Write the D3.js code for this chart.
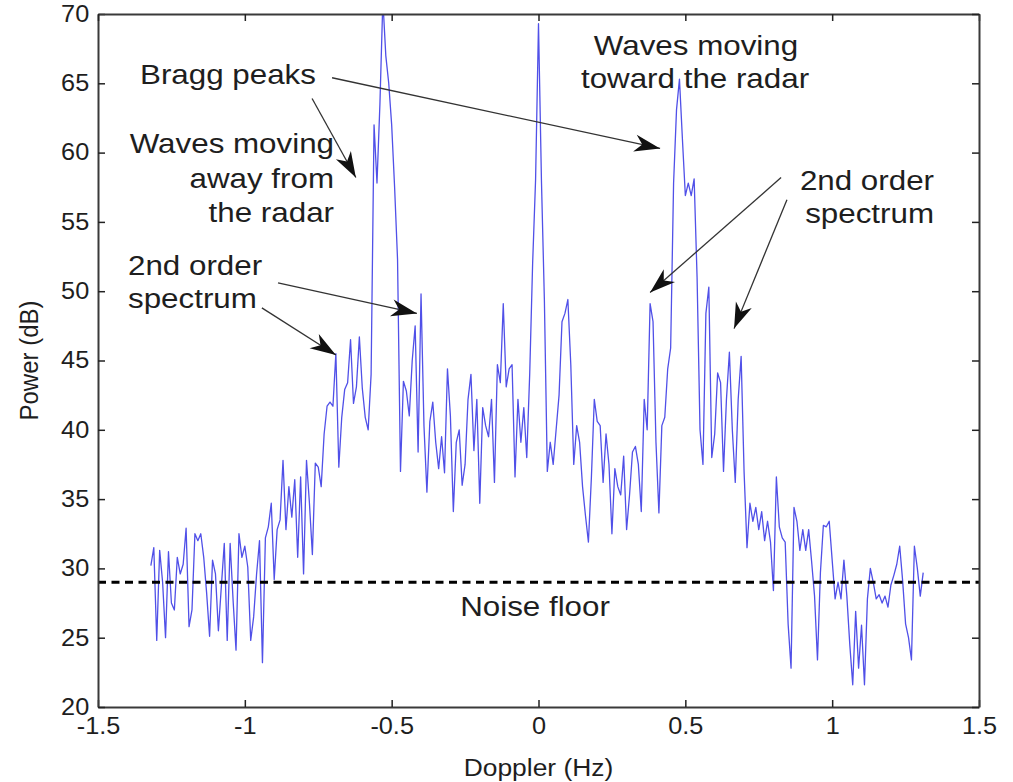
<!DOCTYPE html>
<html>
<head>
<meta charset="utf-8">
<script src="https://cdn.jsdelivr.net/npm/d3@7"></script>
<style>
  body { margin: 0; background: #fff; }
  text { font-family: "Liberation Sans", Arial, Helvetica, sans-serif; fill: #1e1e1e; }
</style>
</head>
<body>
<svg width="1013" height="782"></svg>
<script>
// Doppler bins (Hz) and received power (dB)
let doppler = [
  -1.32, -1.31, -1.30, -1.29, -1.28, -1.27, -1.26, -1.25, -1.24, -1.23, -1.22, -1.21, -1.20, -1.19, -1.18, -1.17,
  -1.16, -1.15, -1.14, -1.13, -1.12, -1.11, -1.10, -1.09, -1.08, -1.07, -1.06, -1.05, -1.04, -1.03, -1.02, -1.01,
  -1.00, -0.99, -0.98, -0.97, -0.96, -0.95, -0.94, -0.93, -0.92, -0.91, -0.90, -0.89, -0.88, -0.87, -0.86, -0.85,
  -0.84, -0.83, -0.82, -0.81, -0.80, -0.79, -0.78, -0.77, -0.76, -0.75, -0.74, -0.73, -0.72, -0.71, -0.70, -0.69,
  -0.68, -0.67, -0.66, -0.65, -0.64, -0.63, -0.62, -0.61, -0.60, -0.59, -0.58, -0.57, -0.56, -0.55, -0.54, -0.53,
  -0.52, -0.51, -0.50, -0.49, -0.48, -0.47, -0.46, -0.45, -0.44, -0.43, -0.42, -0.41, -0.40, -0.39, -0.38, -0.37,
  -0.36, -0.35, -0.34, -0.33, -0.32, -0.31, -0.30, -0.29, -0.28, -0.27, -0.26, -0.25, -0.24, -0.23, -0.22, -0.21,
  -0.20, -0.19, -0.18, -0.17, -0.16, -0.15, -0.14, -0.13, -0.12, -0.11, -0.10, -0.09, -0.08, -0.07, -0.06, -0.05,
  -0.04, -0.03, -0.02, -0.01, 0.00, 0.01, 0.02, 0.03, 0.04, 0.05, 0.06, 0.07, 0.08, 0.09, 0.10, 0.11,
  0.12, 0.13, 0.14, 0.15, 0.16, 0.17, 0.18, 0.19, 0.20, 0.21, 0.22, 0.23, 0.24, 0.25, 0.26, 0.27,
  0.28, 0.29, 0.30, 0.31, 0.32, 0.33, 0.34, 0.35, 0.36, 0.37, 0.38, 0.39, 0.40, 0.41, 0.42, 0.43,
  0.44, 0.45, 0.46, 0.47, 0.48, 0.49, 0.50, 0.51, 0.52, 0.53, 0.54, 0.55, 0.56, 0.57, 0.58, 0.59,
  0.60, 0.61, 0.62, 0.63, 0.64, 0.65, 0.66, 0.67, 0.68, 0.69, 0.70, 0.71, 0.72, 0.73, 0.74, 0.75,
  0.76, 0.77, 0.78, 0.79, 0.80, 0.81, 0.82, 0.83, 0.84, 0.85, 0.86, 0.87, 0.88, 0.89, 0.90, 0.91,
  0.92, 0.93, 0.94, 0.95, 0.96, 0.97, 0.98, 0.99, 1.00, 1.01, 1.02, 1.03, 1.04, 1.05, 1.06, 1.07,
  1.08, 1.09, 1.10, 1.11, 1.12, 1.13, 1.14, 1.15, 1.16, 1.17, 1.18, 1.19, 1.20, 1.21, 1.22, 1.23,
  1.24, 1.25, 1.26, 1.27, 1.28, 1.29, 1.30, 1.31
];

let power = [
  30.2, 31.5, 24.8, 31.3, 29.0, 25.0, 31.2, 27.5, 27.0, 30.8, 29.6, 30.3, 32.9, 25.8, 27.0, 32.5,
  32.0, 32.5, 30.8, 28.2, 25.1, 30.6, 29.6, 25.5, 28.7, 31.8, 24.8, 31.8, 27.7, 24.1, 32.5, 30.8,
  31.6, 30.1, 24.8, 26.5, 29.6, 32.0, 23.2, 32.2, 33.0, 34.7, 29.2, 32.8, 33.5, 37.8, 32.8, 35.9,
  33.7, 36.4, 30.8, 36.6, 29.6, 37.8, 34.7, 31.0, 37.6, 37.3, 35.9, 39.7, 41.7, 42.0, 41.7, 45.5,
  37.3, 40.9, 42.9, 43.4, 46.5, 41.9, 43.1, 46.7, 43.0, 40.9, 40.0, 44.0, 62.0, 57.8, 63.5, 71.0,
  67.0, 65.0, 62.0, 57.5, 52.3, 37.0, 43.5, 42.8, 41.0, 45.0, 47.5, 38.4, 49.8, 40.3, 35.5, 40.6,
  42.0, 39.1, 37.2, 39.5, 36.9, 44.4, 41.0, 34.1, 39.1, 40.0, 36.0, 37.5, 42.2, 44.0, 38.5, 42.2,
  34.7, 41.6, 40.3, 39.5, 42.2, 36.2, 44.7, 43.4, 49.1, 43.1, 44.4, 44.7, 36.6, 42.2, 39.1, 41.6,
  38.0, 44.0, 52.0, 58.0, 69.3, 58.0, 49.4, 37.0, 39.1, 37.5, 40.0, 42.5, 47.8, 48.4, 49.4, 44.7,
  37.5, 40.3, 39.1, 35.9, 33.8, 31.9, 36.5, 42.2, 40.6, 40.3, 36.2, 39.7, 37.5, 32.5, 37.2, 35.9,
  35.3, 38.1, 32.8, 35.3, 38.4, 38.8, 37.5, 34.1, 42.2, 40.0, 49.1, 47.8, 39.1, 34.0, 40.3, 40.9,
  44.4, 45.9, 57.8, 63.1, 65.3, 61.0, 56.9, 57.8, 56.9, 58.1, 51.0, 40.0, 37.5, 48.4, 50.3, 38.0,
  39.7, 44.1, 43.4, 37.0, 42.2, 45.6, 40.0, 36.2, 42.2, 45.3, 37.0, 31.5, 34.7, 33.4, 34.4, 32.8,
  34.1, 32.0, 33.4, 31.9, 28.4, 36.6, 33.0, 32.2, 31.9, 26.0, 22.8, 34.4, 33.4, 31.3, 32.8, 31.3,
  32.8, 30.5, 28.0, 23.4, 29.7, 33.1, 33.0, 33.4, 30.6, 27.8, 29.0, 27.8, 30.6, 28.0, 24.5, 21.6,
  26.9, 22.8, 25.9, 21.6, 27.8, 30.0, 29.0, 27.8, 28.1, 27.5, 28.0, 27.2, 28.8, 29.5, 30.3, 31.6,
  29.1, 26.0, 25.0, 23.4, 31.6, 30.0, 28.0, 29.7
];

let xTicks = [-1.5, -1, -0.5, 0, 0.5, 1, 1.5];
let xTickLabels = ['-1.5', '-1', '-0.5', '0', '0.5', '1', '1.5'];
let yTicks = [20, 25, 30, 35, 40, 45, 50, 55, 60, 65, 70];
let noiseFloor = 29;

// annotation text lines (pixel layout)
let notes = [
  { text: 'Bragg peaks', x: 140, y: 84, anchor: 'start' },
  { text: 'Waves moving', x: 334, y: 153, anchor: 'end' },
  { text: 'away from', x: 334, y: 188, anchor: 'end' },
  { text: 'the radar', x: 334, y: 222, anchor: 'end' },
  { text: '2nd order', x: 128, y: 275, anchor: 'start' },
  { text: 'spectrum', x: 128, y: 308, anchor: 'start' },
  { text: 'Waves moving', x: 696, y: 55, anchor: 'middle' },
  { text: 'toward the radar', x: 695, y: 88, anchor: 'middle' },
  { text: '2nd order', x: 934, y: 190, anchor: 'end' },
  { text: 'spectrum', x: 934, y: 223, anchor: 'end' },
  { text: 'Noise floor', x: 535, y: 616, anchor: 'middle' },
];

// arrows, in data units [Hz, dB] from tail to tip
let arrows = [
  [[-0.703, 65.4], [0.414, 60.3]],
  [[-0.771, 63.9], [-0.622, 58.2]],
  [[-0.887, 50.6], [-0.414, 48.4]],
  [[-0.942, 48.8], [-0.690, 45.4]],
  [[0.826, 58.2], [0.380, 49.9]],
  [[0.846, 56.6], [0.666, 47.3]],
];

let svgWidth = 1013;
let svgHeight = 782;
let marginLeft = 98;
let marginTop = 14;
let marginRight = 34;
let marginBottom = 75;
let width = svgWidth - marginLeft - marginRight;
let height = svgHeight - marginTop - marginBottom;
let stretch = 1.1;

let svg = d3.select('svg');

let defs = svg.append('defs');
defs.append('clipPath').attr('id', 'clip')
  .append('rect').attr('width', width).attr('height', height);
defs.append('marker')
  .attr('id', 'head')
  .attr('markerUnits', 'userSpaceOnUse')
  .attr('markerWidth', 30).attr('markerHeight', 30)
  .attr('viewBox', '-26 -10 28 20')
  .attr('refX', 0).attr('refY', 0)
  .attr('orient', 'auto')
  .append('path')
  .attr('d', 'M0,0 L-24,-8 L-17,0 L-24,8 Z')
  .attr('fill', '#111');

let x = d3.scaleLinear().domain([-1.5, 1.5]).range([0, width]);
let y = d3.scaleLinear().domain([20, 70]).range([height, 0]);

let plot = svg.append('g').attr('transform', `translate(${marginLeft},${marginTop})`);

// spectrum
let line = d3.line().x((d, i) => x(doppler[i])).y((d) => y(d));
plot.append('g').attr('clip-path', 'url(#clip)')
  .append('path')
  .datum(power)
  .attr('d', line)
  .attr('fill', 'none')
  .attr('stroke', '#5050e8')
  .attr('stroke-width', 1.3)
  .attr('stroke-linejoin', 'round');

// noise floor
plot.append('line')
  .attr('x1', 0).attr('x2', width)
  .attr('y1', y(noiseFloor)).attr('y2', y(noiseFloor))
  .attr('stroke', '#000')
  .attr('stroke-width', 3)
  .attr('stroke-dasharray', '8,5.5');

// axes, ticks pointing inwards
let bottom = plot.append('g').attr('transform', `translate(0,${height})`)
  .call(d3.axisBottom(x).tickValues(xTicks).tickFormat((d, i) => xTickLabels[i])
    .tickSizeInner(-7).tickSizeOuter(0).tickPadding(11));
let left = plot.append('g')
  .call(d3.axisLeft(y).tickValues(yTicks).tickSizeInner(-7).tickSizeOuter(0).tickPadding(8));
plot.append('g')
  .call(d3.axisTop(x).tickValues(xTicks).tickFormat('').tickSizeInner(-7).tickSizeOuter(0));
plot.append('g').attr('transform', `translate(${width},0)`)
  .call(d3.axisRight(y).tickValues(yTicks).tickFormat('').tickSizeInner(-7).tickSizeOuter(0));

plot.selectAll('.domain').attr('stroke', '#3a3a3a').attr('stroke-width', 2);
plot.selectAll('.tick line').attr('stroke', '#222').attr('stroke-width', 1.5);
plot.selectAll('.tick text')
  .style('font-size', '23px')
  .attr('fill', '#1e1e1e')
  .attr('transform', `scale(${stretch},1)`);

// axis titles
svg.append('text')
  .attr('transform', `translate(${marginLeft + width / 2},776) scale(${stretch},1)`)
  .attr('text-anchor', 'middle')
  .style('font-size', '24px')
  .text('Doppler (Hz)');
svg.append('text')
  .attr('transform', `translate(38,${marginTop + height / 2}) rotate(-90) scale(1,${stretch})`)
  .attr('text-anchor', 'middle')
  .style('font-size', '24px')
  .text('Power (dB)');

// annotations
plot.selectAll('path.arrow')
  .data(arrows)
  .enter()
  .append('path')
  .attr('class', 'arrow')
  .attr('d', (d) => `M${x(d[0][0])},${y(d[0][1])} L${x(d[1][0])},${y(d[1][1])}`)
  .attr('stroke', '#333')
  .attr('stroke-width', 1.3)
  .attr('fill', 'none')
  .attr('marker-end', 'url(#head)');

svg.selectAll('text.note')
  .data(notes)
  .enter()
  .append('text')
  .attr('class', 'note')
  .attr('transform', (d) => `translate(${d.x},${d.y}) scale(${stretch},1)`)
  .attr('text-anchor', (d) => d.anchor)
  .style('font-size', '28.5px')
  .text((d) => d.text);
</script>
</body>
</html>
